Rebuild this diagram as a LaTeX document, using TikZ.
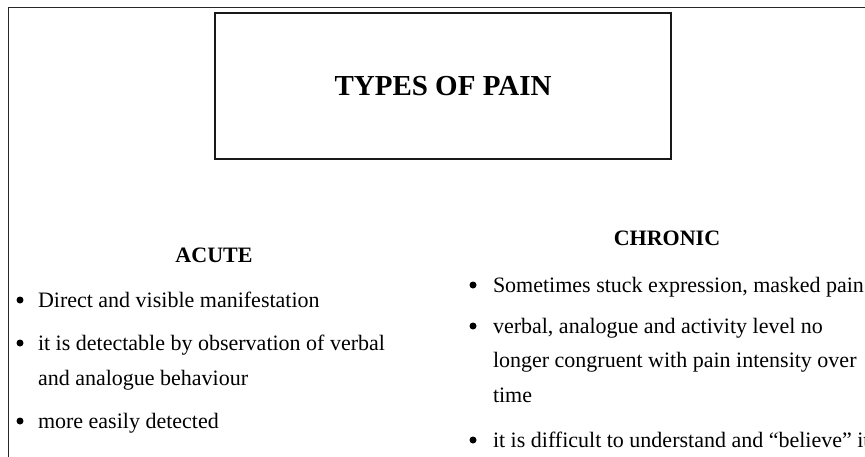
\documentclass[tikz,border=0pt]{standalone}
\usepackage{fontspec}
\setmainfont{Liberation Serif}
\begin{document}
\begin{tikzpicture}[x=1pt,y=-1pt,
  every node/.style={inner sep=0pt,outer sep=0pt},
  frameline/.style={draw=black!85,line width=1.5pt},
  titlebox/.style={draw=black!90,line width=2.2pt,minimum width=456pt,minimum height=146pt,font=\fontsize{29}{34}\selectfont\bfseries},
  head/.style={anchor=base,font=\fontsize{22}{26}\selectfont\bfseries},
  txt/.style={anchor=base west,font=\fontsize{22}{26}\selectfont},
  dot/.style={circle,fill=black,minimum size=7pt}]
\useasboundingbox (0,0) rectangle (865,456);
\coordinate (fbl) at (8.5,470);
\coordinate (ftl) at (8.5,7.5);
\coordinate (ftr) at (880,7.5);
\draw[frameline] (fbl) -- (ftl) -- (ftr);
\node[titlebox] (title) at (443,86) {TYPES OF PAIN};
% Acute
\node[head] (acute) at (214,262) {ACUTE};
\node[dot] (a1b) at (20,300) {};
\node[txt] (a1) at (38,307) {Direct and visible manifestation};
\node[dot] (a2b) at (20,343) {};
\node[txt] (a2) at (38,350) {it is detectable by observation of verbal};
\node[txt] (a2c) at (38,385) {and analogue behaviour};
\node[dot] (a3b) at (20,421) {};
\node[txt] (a3) at (38,428) {more easily detected};
% Chronic
\node[head] (chronic) at (667,245) {CHRONIC};
\node[dot] (c1b) at (473,285) {};
\node[txt] (c1) at (493,292) {Sometimes stuck expression, masked pain};
\node[dot] (c2b) at (473,326) {};
\node[txt] (c2) at (493,333) {verbal, analogue and activity level no};
\node[txt] (c2c) at (493,367) {longer congruent with pain intensity over};
\node[txt] (c2d) at (493,402) {time};
\node[dot] (c3b) at (473,440) {};
\node[txt] (c3) at (493,447) {it is difficult to understand and ``believe'' it};
\end{tikzpicture}
\end{document}
